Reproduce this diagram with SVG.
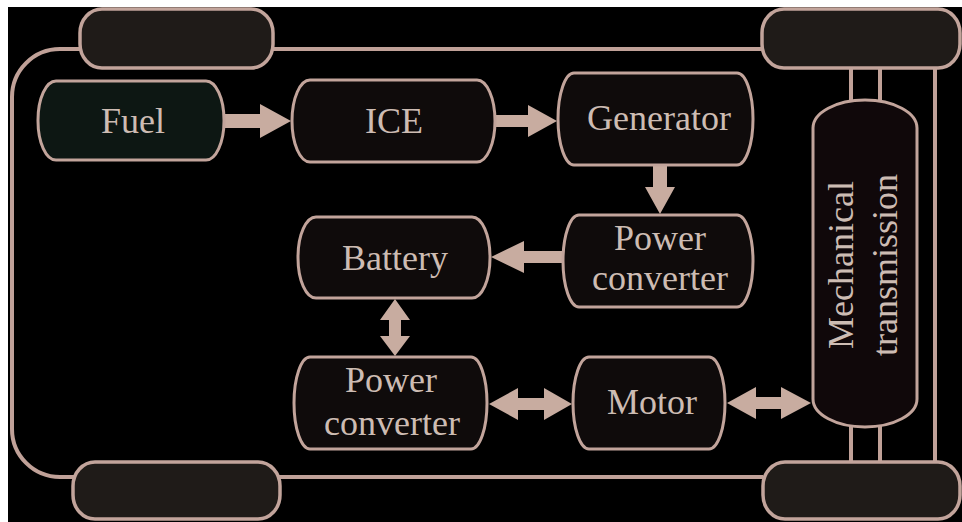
<svg xmlns="http://www.w3.org/2000/svg" width="962" height="522" viewBox="0 0 962 522">
<style>
.frame{fill:none;stroke:#c0a198;stroke-width:4}
.wheel{fill:#1f1b18;stroke:#c2a49b;stroke-width:3.5}
.box{fill:#0f0b0b;stroke:#c2a49b;stroke-width:3}
.fuel{fill:#0d1713;stroke:#c2a49b;stroke-width:3}
.mech{fill:#10080a;stroke:#c2a49b;stroke-width:3}
.arrow{fill:#c8aca0}
.t{font-family:"Liberation Serif","Times New Roman",serif;font-size:36px;fill:#cdbcb3;text-anchor:middle}
</style>
<rect x="0" y="0" width="962" height="522" fill="#ffffff"/>
<rect x="8" y="7" width="954" height="515" fill="#000000"/>
<g id="chassis">
<path class="frame" d="M762 49 H60 A48 48 0 0 0 12 97 V429 A48 48 0 0 0 60 477 H763"/>
<path class="frame" d="M935 68 V462"/>
<path class="frame" d="M851 68 V110 M880 68 V110 M851 420 V462 M880 420 V462"/>
</g>
<g id="wheel-top-left"><rect class="wheel" x="80" y="9" width="193" height="59" rx="22" ry="24"/></g>
<g id="wheel-top-right"><rect class="wheel" x="762" y="9" width="198" height="59" rx="22" ry="24"/></g>
<g id="wheel-bottom-left"><rect class="wheel" x="73" y="462" width="207" height="57" rx="22" ry="24"/></g>
<g id="wheel-bottom-right"><rect class="wheel" x="763" y="462" width="197" height="57" rx="22" ry="24"/></g>
<g id="connectors">
<polygon class="arrow" points="224,114 260,114 260,104 291,121 260,138 260,128 224,128"/>
<polygon class="arrow" points="496,115 528,115 528,105 557,121 528,137 528,127 496,127"/>
<polygon class="arrow" points="653,165 667,165 667,187 675,187 660,214 645,187 653,187"/>
<polygon class="arrow" points="563,251 524,251 524,241 491,257 524,273 524,263 563,263"/>
<polygon class="arrow" points="395,299 410,320 401,320 401,336 410,336 395,356 380,336 389,336 389,320 380,320"/>
<polygon class="arrow" points="489,404 518,388 518,398 544,398 544,388 572,404 544,420 544,410 518,410 518,420"/>
<polygon class="arrow" points="727,403 756,387 756,397 781,397 781,387 811,403 781,419 781,409 756,409 756,419"/>
</g>
<g id="fuel"><rect class="fuel" x="38" y="81" width="186" height="79" rx="18" ry="39"/><text class="t" x="133" y="133">Fuel</text></g>
<g id="ice"><rect class="box" x="292" y="80" width="203" height="82" rx="18" ry="41"/><text class="t" x="394" y="133">ICE</text></g>
<g id="generator"><rect class="box" x="558" y="73" width="195" height="92" rx="16" ry="46"/><text class="t" x="659" y="130">Generator</text></g>
<g id="power-converter-1"><rect class="box" x="563" y="215" width="190" height="92" rx="16" ry="46"/><text class="t" x="660" y="250">Power</text><text class="t" x="660" y="290">converter</text></g>
<g id="battery"><rect class="box" x="298" y="217" width="192" height="81" rx="18" ry="40"/><text class="t" x="395" y="270">Battery</text></g>
<g id="power-converter-2"><rect class="box" x="294" y="357" width="193" height="92" rx="16" ry="46"/><text class="t" x="391" y="392">Power</text><text class="t" x="392" y="435">converter</text></g>
<g id="motor"><rect class="box" x="573" y="357" width="152" height="92" rx="16" ry="46"/><text class="t" x="652" y="414">Motor</text></g>
<g id="mechanical-transmission"><rect class="mech" x="813" y="100" width="104" height="327" rx="52" ry="28"/>
<text class="t" transform="translate(853,265) rotate(-90)">Mechanical</text>
<text class="t" transform="translate(897,265) rotate(-90)">transmission</text></g>
</svg>
